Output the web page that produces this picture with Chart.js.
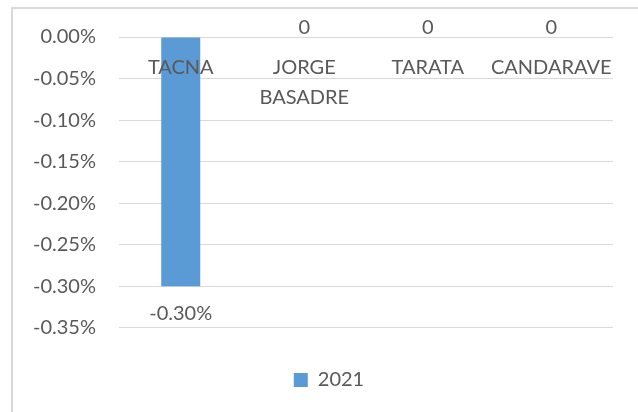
<!DOCTYPE html>
<html>
<head>
<meta charset="utf-8">
<script src="https://cdn.jsdelivr.net/npm/chart.js@4.4.1/dist/chart.umd.min.js"></script>
<style>
  html, body { margin: 0; padding: 0; background: #ffffff; overflow: hidden; }
  #frame { position: absolute; left: 11px; top: 7px; width: 700px; height: 500px;
           border-left: 2px solid #d9d9d9; border-top: 2px solid #d9d9d9; }
  #wrap { position: absolute; left: 0; top: 0; width: 638px; height: 412px; }
</style>
</head>
<body>
<div id="frame"></div>
<div id="wrap"><canvas id="c"></canvas></div>
<script>
const categories = ['TACNA', ['JORGE', 'BASADRE'], 'TARATA', 'CANDARAVE'];
const seriesName = '2021';
const values = [-0.30, 0, 0, 0];
const yTicks = [0, -0.05, -0.10, -0.15, -0.20, -0.25, -0.30, -0.35];
const yMin = -0.35;
const yMax = 0;
const yStep = 0.05;

const textColor = '#595959';
const fontFamily = 'Lato, "Noto Sans", sans-serif';
const fontSize = 20;

function fmtPct(v) { return v.toFixed(2) + '%'; }
function fmtLabel(v) { return v === 0 ? '0' : fmtPct(v); }

// widest y tick label, so the right-aligned labels can sit left of the plot
const mctx = document.createElement('canvas').getContext('2d');
mctx.font = fontSize + 'px ' + fontFamily;
const widestTick = Math.max(...yTicks.map(v => mctx.measureText(fmtPct(v)).width));

const dataLabels = {
  id: 'dataLabels',
  afterDatasetsDraw(chart) {
    const ctx = chart.ctx;
    const meta = chart.getDatasetMeta(0);
    ctx.save();
    ctx.font = fontSize + 'px ' + fontFamily;
    ctx.fillStyle = textColor;
    ctx.textAlign = 'center';
    ctx.textBaseline = 'middle';
    meta.data.forEach((bar, i) => {
      const v = values[i];
      const y = v >= 0 ? bar.y - 9 : bar.y + 27.5;
      ctx.fillText(fmtLabel(v), bar.x, y);
    });
    ctx.restore();
  }
};

new Chart(document.getElementById('c'), {
  type: 'bar',
  data: {
    labels: categories,
    datasets: [{
      label: seriesName,
      data: values,
      backgroundColor: '#5B9BD5',
      borderColor: '#5B9BD5',
      borderWidth: 0,
      categoryPercentage: 1,
      barPercentage: 0.316
    }]
  },
  options: {
    responsive: true,
    maintainAspectRatio: false,
    animation: false,
    layout: { padding: { left: 45, right: 25, top: 37, bottom: 12 } },
    scales: {
      x: {
        position: { y: 0 },
        grid: { display: false, drawTicks: false },
        border: { display: false },
        ticks: {
          z: 1,
          autoSkip: false, maxRotation: 0, minRotation: 0,
          padding: 16,
          color: textColor,
          font: { family: fontFamily, size: fontSize, lineHeight: 1.5 }
        }
      },
      y: {
        min: yMin, max: yMax,
        grid: { color: '#d9d9d9', lineWidth: 1, drawTicks: false },
        border: { display: false },
        ticks: {
          stepSize: yStep,
          mirror: true,
          crossAlign: 'far',
          padding: -(23 + widestTick),
          color: textColor,
          font: { family: fontFamily, size: fontSize },
          callback: (v) => fmtPct(v)
        },
        afterFit(scale) { scale.width = 74; scale.paddingTop = 0; scale.paddingBottom = 0; }
      }
    },
    plugins: {
      tooltip: { enabled: false },
      legend: {
        position: 'bottom',
        labels: {
          boxWidth: 14, boxHeight: 14,
          padding: 42.3,
          color: textColor,
          font: { family: fontFamily, size: fontSize }
        }
      }
    }
  },
  plugins: [dataLabels]
});
</script>
</body>
</html>
